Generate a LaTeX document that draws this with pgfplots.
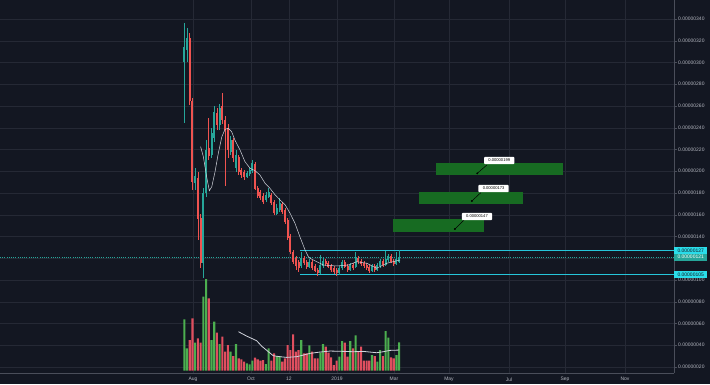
\documentclass[border=0pt]{standalone}
\usepackage{fontspec}
\setmainfont{Liberation Sans}
\usepackage{pgfplots}
\usepackage{pgfplotstable}
\pgfplotsset{compat=1.18}
\definecolor{bgc}{HTML}{131722}
\definecolor{gridc}{HTML}{252935}
\definecolor{axc}{HTML}{4A4E5A}
\definecolor{tickc}{HTML}{B2B5BE}
\definecolor{upc}{HTML}{26A69A}
\definecolor{dnc}{HTML}{EF5350}
\definecolor{vup}{HTML}{4CAF50}
\definecolor{vdn}{HTML}{E04F5F}
\definecolor{mac}{HTML}{D1D4DC}
\definecolor{cyl}{HTML}{26C6DA}
\definecolor{cyb}{HTML}{2ADDEA}
\definecolor{boxg}{HTML}{176B22}

% i open high low close volume  (prices in units of 1e-8)
\pgfplotstableread{
i o h l c v
0 300.5 336.3 244.4 314.3 154
1 311.5 331.7 300.5 322.5 67
2 322.5 327.1 260.9 264.6 92
3 264.6 267.4 182.8 190.1 157
4 189.2 203.0 182.8 195.6 84
5 193.8 199.3 136.8 156.1 97
6 157.0 160.7 111.0 115.6 84
7 115.6 184.6 101.8 180.0 222
8 180.0 228.7 176.3 219.5 275
9 221.4 249.0 210.3 214.0 217
10 214.9 239.8 212.2 235.2 92
11 230.6 260.0 226.9 254.5 147
12 253.6 258.2 237.9 242.5 114
13 242.5 261.8 237.9 258.2 80
14 260.0 272.0 243.5 247.1 102
15 247.1 250.8 186.4 237.9 57
16 239.8 243.5 212.2 219.5 77
17 217.7 232.4 214.9 228.7 57
18 228.7 230.6 208.5 212.2 44
19 203.0 219.5 199.3 214.9 80
20 213.1 214.9 196.6 199.3 37
21 201.2 203.0 193.8 196.6 34
22 199.3 201.2 192.0 194.7 27
23 194.7 200.2 193.8 198.4 22
24 197.5 203.0 195.6 201.2 19
25 200.2 210.3 198.4 207.6 30
26 206.7 208.5 182.8 183.7 39
27 184.6 186.4 175.4 177.2 34
28 180.9 182.8 173.6 175.4 30
29 177.2 180.0 169.9 171.7 32
30 173.6 180.9 171.7 178.2 20
31 176.3 184.6 175.4 180.9 67
32 178.2 180.0 169.0 170.8 30
33 171.7 173.6 159.8 161.6 52
34 160.7 169.9 159.8 166.2 44
35 164.4 175.4 162.5 170.8 44
36 169.9 171.7 160.7 162.5 27
37 164.4 166.2 151.5 153.3 37
38 155.2 157.0 136.8 138.6 77
39 140.5 142.3 123.9 125.8 62
40 125.8 127.6 114.7 116.6 109
41 120.2 122.1 109.2 112.9 57
42 116.6 118.4 107.4 111.0 62
43 112.9 125.8 111.0 120.2 92
44 120.2 122.1 113.8 115.6 52
45 116.6 118.4 110.1 112.0 52
46 112.0 119.3 111.0 116.6 76
47 116.6 118.4 109.2 111.0 57
48 112.9 114.7 107.4 108.3 37
49 109.2 111.0 103.7 106.4 37
50 106.4 123.0 105.5 113.8 54
51 112.9 120.2 111.0 117.5 80
52 117.5 119.3 112.9 114.7 72
53 115.6 117.5 111.0 112.0 54
54 112.9 114.7 107.4 109.2 40
55 111.0 112.9 105.5 107.4 17
56 109.2 111.0 103.7 106.4 30
57 106.4 112.9 104.6 111.0 42
58 111.0 118.4 109.2 116.6 89
59 116.6 118.4 111.0 112.0 84
60 112.9 114.7 107.4 109.2 42
61 109.2 115.6 108.3 113.8 89
62 113.8 115.6 109.2 111.0 67
63 112.0 125.8 111.0 120.2 106
64 120.2 122.1 114.7 116.6 57
65 117.5 119.3 112.9 114.7 72
66 115.6 117.5 111.0 112.9 30
67 113.8 115.6 109.2 111.0 30
68 112.0 113.8 106.4 108.3 30
69 108.3 114.7 107.4 112.9 47
70 112.9 114.7 107.4 109.2 44
71 109.2 115.6 108.3 113.8 27
72 112.9 119.3 111.0 117.5 62
73 117.5 119.3 112.0 113.8 44
74 113.8 126.7 112.9 119.3 119
75 118.4 123.9 116.6 122.1 99
76 122.1 123.9 115.6 116.6 40
77 117.5 119.3 112.9 114.7 37
78 114.7 125.8 113.8 119.3 47
79 116.6 127.6 115.6 121.2 85
}\candles

\pgfplotsset{
  common/.style={at={(0,0)}, anchor=north west, scale only axis,
    width=674bp, height=373bp, xmin=-67.76, xmax=180.04},
  upfilter/.style={restrict expr to domain={\thisrow{c}-\thisrow{o}}{0:1000}},
  dnfilter/.style={restrict expr to domain={\thisrow{c}-\thisrow{o}}{-1000:-0.001}},
  candle/.style 2 args={draw=none, mark=none, forget plot,
    error bars/y dir=plus, error bars/y explicit, error bars/error mark=none,
    error bars/error bar style={draw=#1, line width=#2, solid}},
}

\begin{document}
\begin{tikzpicture}[x=1bp,y=1bp]
\fill[bgc] (0,0) rectangle (710,-384);
% ---------- price axis ----------
\begin{axis}[common,
  ymin=14.48, ymax=357.47,
  axis x line*=bottom, axis y line*=right,
  axis line style={draw=axc, line width=0.6bp, -},
  grid=major, grid style={draw=gridc, line width=0.5bp},
  xtick={3.20,24.52,38.49,56.14,77.10,97.32,119.38,139.96,162.02},
  xticklabels={Aug,Oct,12,2019,Mar,May,Jul,Sep,Nov},
  ytick={20,40,60,80,100,120,140,160,180,200,220,240,260,280,300,320,340},
  yticklabels={0.00000020,0.00000040,0.00000060,0.00000080,0.00000100,0.00000120,0.00000140,0.00000160,0.00000180,0.00000200,0.00000220,0.00000240,0.00000260,0.00000280,0.00000300,0.00000320,0.00000340},
  tick align=outside, major tick length=3bp,
  ytick style={draw=axc, line width=0.5bp}, xtick style={draw=none},
  ticklabel style={font=\fontsize{5}{6}\selectfont, text=tickc},
  yticklabel style={inner sep=1bp},
  xticklabel style={inner sep=1.2bp},
]
% target zones
\addplot[fill=boxg, draw=none, forget plot] coordinates {(76.8,144.4) (110.2,144.4) (110.2,155.8) (76.8,155.8)} -- cycle;
\addplot[fill=boxg, draw=none, forget plot] coordinates {(86.3,169.9) (124.6,169.9) (124.6,180.6) (86.3,180.6)} -- cycle;
\addplot[fill=boxg, draw=none, forget plot] coordinates {(92.4,196.6) (139.1,196.6) (139.1,207.3) (92.4,207.3)} -- cycle;
% range lines
\addplot[cyl, line width=0.7bp] coordinates {(42.5,127) (180.04,127)};
\addplot[cyl, line width=0.7bp] coordinates {(42.5,105) (180.04,105)};
\addplot[upc, line width=0.5bp, dash pattern=on 1bp off 1.2bp] coordinates {(-67.76,121) (180.04,121)};
% wicks
\addplot[upfilter, candle={upc}{0.6bp}] table[x=i, y=l, y error expr=\thisrow{h}-\thisrow{l}] {\candles};
\addplot[dnfilter, candle={dnc}{0.6bp}] table[x=i, y=l, y error expr=\thisrow{h}-\thisrow{l}] {\candles};
% bodies
\addplot[upfilter, candle={upc}{2bp}] table[x=i, y=o, y error expr=\thisrow{c}-\thisrow{o}] {\candles};
\addplot[dnfilter, candle={dnc}{2bp}] table[x=i, y=c, y error expr=\thisrow{o}-\thisrow{c}] {\candles};
% price moving average
\addplot[mac, line width=0.5bp] coordinates {
(6.0,222.6) (7.0,213.4) (8.2,195.0) (9.2,182.1) (10.1,185.8) (11.3,199.6) (12.5,216.5)
(13.8,231.8) (15.0,238.6) (16.2,239.5) (17.4,236.4) (18.6,228.7) (20.5,219.5) (22.3,208.8)
(24.2,202.7) (26.0,200.5) (27.8,196.6) (29.7,188.9) (31.5,184.3) (33.4,178.2) (35.2,173.6)
(37.1,169.0) (38.9,161.3) (40.7,152.1) (42.5,139.8) (44.4,127.6) (45.6,121.4) (46.2,120.0)
(51.1,113.8) (56.0,112.9) (60.3,113.8) (63.4,116.8) (67.1,115.4) (70.7,110.8) (74.4,115.4) (79.3,118.4)};
% callout pointers
\addplot[black, line width=0.5bp] coordinates {(99.5,146.9) (102.8,155.2)};
\addplot[black, line width=0.5bp] coordinates {(105.7,172.6) (109.0,180.3)};
\addplot[black, line width=0.5bp] coordinates {(107.7,198.1) (111.2,205.7)};
\addplot[only marks, mark=*, mark size=0.7bp, black] coordinates {(99.5,146.9) (105.7,172.6) (107.7,198.1)};
\end{axis}
% ---------- volume axis ----------
\begin{axis}[common, hide axis, ymin=-6.9, ymax=1112.1]
\addplot[ybar, bar width=2.1bp, bar shift=0pt, fill=vup, draw=none, upfilter] table[x=i, y=v] {\candles};
\addplot[ybar, bar width=2.1bp, bar shift=0pt, fill=vdn, draw=none, dnfilter] table[x=i, y=v] {\candles};
\addplot[mac, line width=0.8bp] coordinates {
(19.9,117) (22.9,104) (26.6,90) (28.4,74) (30.9,57) (32.7,45) (35.2,42) (37.6,40) (41.3,42)
(43.8,47) (46.2,52) (49.9,56) (53.6,59) (58.5,58) (62.1,57) (65.8,58) (70.7,54) (73.2,57) (75.6,61) (79.0,62)};
\end{axis}
% ---------- labels on top ----------
\begin{axis}[common, hide axis, clip=false, ymin=14.48, ymax=357.47]
\node[fill=white, rounded corners=0.8bp, inner xsep=4.3bp, inner ysep=2.2bp, font=\fontsize{4.1}{4.5}\selectfont, text=black] at (axis cs:107.6,158.4) {0.00000147};
\node[fill=white, rounded corners=0.8bp, inner xsep=4.3bp, inner ysep=2.2bp, font=\fontsize{4.1}{4.5}\selectfont, text=black] at (axis cs:113.7,184.1) {0.00000173};
\node[fill=white, rounded corners=0.8bp, inner xsep=4.3bp, inner ysep=2.2bp, font=\fontsize{4.1}{4.5}\selectfont, text=black] at (axis cs:115.8,209.9) {0.00000199};
\node[fill=cyb, anchor=west, inner xsep=3.3bp, inner ysep=1.6bp, font=\fontsize{5}{6}\selectfont, text=bgc] at (axis cs:180.04,127) {0.00000127};
\node[fill=upc, anchor=west, inner xsep=3.3bp, inner ysep=1.6bp, font=\fontsize{5}{6}\selectfont, text=white] at (axis cs:180.04,121) {0.00000121};
\node[fill=cyb, anchor=west, inner xsep=3.3bp, inner ysep=1.6bp, font=\fontsize{5}{6}\selectfont, text=bgc] at (axis cs:180.04,105) {0.00000105};
\end{axis}
\pgfresetboundingbox
\path (0,0) rectangle (710,-384);
\end{tikzpicture}
\end{document}
